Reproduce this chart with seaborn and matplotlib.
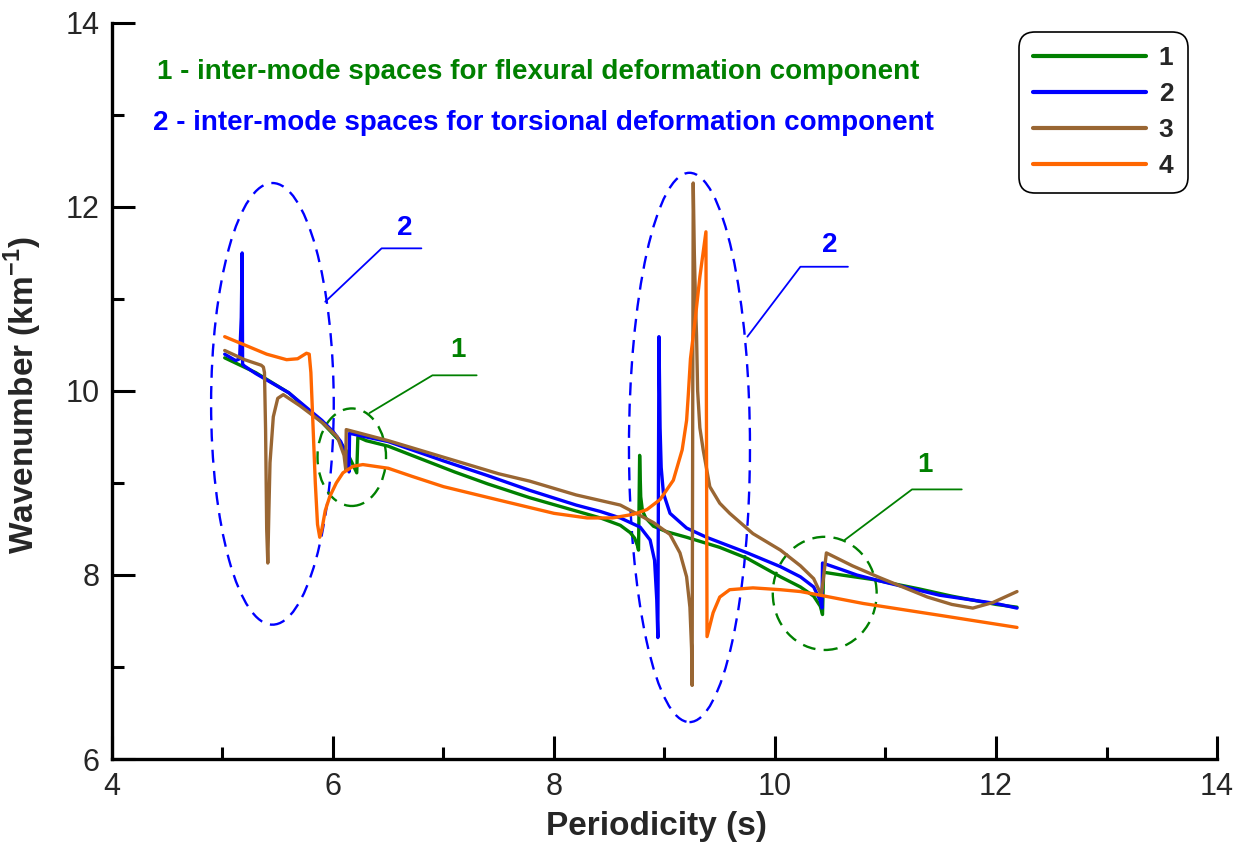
import numpy as np
import pandas as pd
import matplotlib
matplotlib.use("Agg")
import matplotlib.pyplot as plt
import seaborn as sns
from matplotlib.patches import Ellipse

# CURVE DATA (periodicity s, wavenumber 1/km)
x1 = [5.02, 5.3, 5.6, 5.9, 6.05, 6.12, 6.18, 6.215, 6.225, 6.3, 6.5, 6.8, 7.1, 7.4, 7.78,
      8.1, 8.42, 8.6, 8.69, 8.73, 8.755, 8.765, 8.775, 8.785, 8.8, 8.83, 8.9, 9.02, 9.2,
      9.5, 9.75, 10.05, 10.23, 10.35, 10.41, 10.43, 10.44, 10.6, 10.89, 11.3, 11.6, 12.0, 12.19]
y1 = [10.36, 10.2, 9.98, 9.66, 9.47, 9.35, 9.2, 9.11, 9.5, 9.46, 9.4, 9.26, 9.12, 8.99, 8.84,
      8.73, 8.62, 8.54, 8.46, 8.4, 8.32, 8.27, 9.3, 8.85, 8.7, 8.62, 8.53, 8.47, 8.41,
      8.3, 8.18, 7.98, 7.87, 7.77, 7.66, 7.57, 8.03, 8.0, 7.95, 7.85, 7.77, 7.68, 7.65]

x2 = [5.02, 5.12, 5.155, 5.17, 5.178, 5.182, 5.2, 5.3, 5.6, 5.9, 6.0, 6.07, 6.12, 6.145,
      6.15, 6.3, 6.5, 7.0, 7.4, 7.78, 8.2, 8.42, 8.6, 8.78, 8.87, 8.91, 8.93, 8.94,
      8.95, 8.96, 8.97, 8.99, 9.05, 9.2, 9.38, 9.75, 10.05, 10.23, 10.35, 10.41, 10.425,
      10.43, 10.6, 10.74, 11.0, 11.49, 12.0, 12.19]
y2 = [10.4, 10.33, 10.35, 10.8, 11.5, 10.29, 10.27, 10.19, 9.98, 9.68, 9.56, 9.45, 9.3, 9.12,
      9.54, 9.5, 9.45, 9.24, 9.08, 8.92, 8.76, 8.69, 8.62, 8.52, 8.38, 8.16, 7.73, 7.32,
      10.59, 9.6, 9.17, 8.89, 8.67, 8.51, 8.41, 8.24, 8.09, 7.98, 7.87, 7.72, 7.64,
      8.13, 8.06, 8.0, 7.92, 7.78, 7.69, 7.64]

x3 = [5.02, 5.2, 5.3, 5.35, 5.37, 5.38, 5.39, 5.40, 5.41, 5.42, 5.43, 5.46, 5.50, 5.55,
      5.7, 5.91, 6.04, 6.1, 6.115, 6.12, 6.5, 7.0, 7.5, 7.78, 8.2, 8.6, 8.9, 9.05, 9.14,
      9.2, 9.23, 9.245, 9.25, 9.26, 9.27, 9.28, 9.29, 9.30, 9.32, 9.35, 9.41, 9.5, 9.59,
      9.8, 10.05, 10.23, 10.35, 10.42, 10.465, 10.7, 10.95, 11.38, 11.6, 11.79, 11.97, 12.19]
y3 = [10.44, 10.34, 10.3, 10.28, 10.26, 10.2, 9.58, 8.5, 8.13, 8.7, 9.22, 9.72, 9.92, 9.96,
      9.84, 9.65, 9.5, 9.3, 9.15, 9.58, 9.46, 9.28, 9.1, 9.02, 8.87, 8.76, 8.57, 8.44, 8.24,
      7.98, 7.65, 7.2, 6.8, 12.26, 11.5, 11.0, 10.6, 10.0, 9.6, 9.36, 8.96, 8.78, 8.67,
      8.45, 8.27, 8.1, 7.96, 7.78, 8.24, 8.1, 7.97, 7.76, 7.68, 7.64, 7.7, 7.82]

x4 = [5.02, 5.2, 5.4, 5.58, 5.68, 5.72, 5.76, 5.785, 5.80, 5.82, 5.84, 5.86, 5.88, 5.90,
      5.93, 5.97, 6.03, 6.09, 6.18, 6.27, 6.5, 6.72, 7.0, 7.48, 8.0, 8.3, 8.53, 8.72, 8.84,
      8.96, 9.08, 9.16, 9.2, 9.215, 9.235, 9.28, 9.32, 9.375, 9.385, 9.44, 9.5, 9.59, 9.8,
      10.05, 10.23, 10.41, 10.8, 11.5, 12.19]
y4 = [10.59, 10.5, 10.4, 10.34, 10.35, 10.38, 10.41, 10.4, 10.2, 9.6, 9.0, 8.55, 8.41, 8.5,
      8.7, 8.85, 9.0, 9.11, 9.18, 9.2, 9.16, 9.07, 8.96, 8.82, 8.67, 8.62, 8.62, 8.66, 8.71,
      8.82, 9.03, 9.36, 9.68, 9.95, 10.35, 10.8, 11.24, 11.73, 7.33, 7.59, 7.76, 7.84, 7.86,
      7.84, 7.82, 7.78, 7.69, 7.56, 7.43]

labels = ["1", "2", "3", "4"]
colors = {"1": "#008000", "2": "#0000FF", "3": "#996633", "4": "#FF6600"}

frames = []
for lab, xs, ys in zip(labels, [x1, x2, x3, x4], [y1, y2, y3, y4]):
    frames.append(pd.DataFrame({"Periodicity": xs, "Wavenumber": ys, "curve": lab}))
df = pd.concat(frames, ignore_index=True)

sns.set_theme(style="ticks")
plt.rcParams["font.family"] = ["Liberation Sans", "DejaVu Sans"]
plt.rcParams["mathtext.fontset"] = "custom"
plt.rcParams["mathtext.rm"] = "Liberation Sans"
plt.rcParams["mathtext.bf"] = "Liberation Sans:bold"

fig = plt.figure(figsize=(12.54, 8.49), dpi=100)
ax = fig.add_axes([0.0893, 0.106, 0.8812, 0.867])

# dashed ellipses marking the inter-mode spaces
blue_ell = [((5.452, 9.86), 1.11, 4.80), ((9.226, 9.386), 1.095, 5.97)]
green_ell = [((6.17, 9.28), 0.62, 1.06), ((10.45, 7.80), 0.94, 1.23)]
for c, w, h in blue_ell:
    ax.add_patch(Ellipse(c, w, h, fill=False, ec="#0000FF", lw=1.7, ls=(0, (5.5, 3.5)), zorder=1))
for c, w, h in green_ell:
    ax.add_patch(Ellipse(c, w, h, fill=False, ec="#008000", lw=1.7, ls=(0, (5.5, 3.5)), zorder=1))

sns.lineplot(data=df, x="Periodicity", y="Wavenumber", hue="curve", hue_order=labels,
             palette=colors, estimator=None, sort=False, lw=2.4, ax=ax, zorder=3)

# leader lines with their labels
leaders = [
    ([5.93, 6.44, 6.80], [10.97, 11.55, 11.55], "#0000FF", "2", (6.65, 11.77)),
    ([6.33, 6.90, 7.30], [9.76, 10.17, 10.17], "#008000", "1", (7.13, 10.45)),
    ([9.75, 10.23, 10.66], [10.59, 11.35, 11.35], "#0000FF", "2", (10.50, 11.59)),
    ([10.63, 11.24, 11.69], [8.38, 8.93, 8.93], "#008000", "1", (11.36, 9.20)),
]
for lx, ly, col, txt, pos in leaders:
    ax.plot(lx, ly, color=col, lw=1.3, zorder=2)
    ax.text(pos[0], pos[1], txt, color=col, fontsize=20, fontweight="bold",
            ha="center", va="center")

ax.text(4.41, 13.47, "1 - inter-mode spaces for flexural deformation component",
        color="#008000", fontsize=20, fontweight="bold", va="center")
ax.text(4.37, 12.91, "2 - inter-mode spaces for torsional deformation component",
        color="#0000FF", fontsize=20, fontweight="bold", va="center")

ax.set_xlim(4, 14)
ax.set_ylim(6, 14)
ax.set_xticks([4, 6, 8, 10, 12, 14])
ax.set_yticks([6, 8, 10, 12, 14])
ax.set_xticks([5, 7, 9, 11, 13], minor=True)
ax.set_yticks([7, 9, 11, 13], minor=True)
ax.tick_params(which="major", direction="in", length=16.5, width=2.2, labelsize=22, pad=9, color="black")
ax.tick_params(which="minor", direction="in", length=8.5, width=2.2, color="black")
for s in ["top", "right"]:
    ax.spines[s].set_visible(False)
for s in ["left", "bottom"]:
    ax.spines[s].set_linewidth(2.4)
    ax.spines[s].set_color("black")

ax.set_xlabel("Periodicity (s)", fontsize=24, fontweight="bold")
ax.set_ylabel(r"Wavenumber (km$^{\mathbf{-1}}$)", fontsize=24, fontweight="bold")
ax.xaxis.set_label_coords(0.4923, -0.07)
ax.yaxis.set_label_coords(-0.0615, 0.4946)

handles, labs = ax.get_legend_handles_labels()
leg = ax.legend(handles, labs, loc="upper right", bbox_to_anchor=(0.9738, 0.9878),
                borderaxespad=0, fancybox=True, framealpha=1, edgecolor="black",
                prop={"weight": "bold", "size": 19}, handlelength=4.25,
                handletextpad=0.5, labelspacing=0.45, borderpad=0.55)
leg.get_frame().set_linewidth(1.2)
leg.get_frame().set_boxstyle("round,pad=0,rounding_size=0.6")
for line in leg.get_lines():
    line.set_linewidth(3)

plt.savefig("out.png", dpi=100)
